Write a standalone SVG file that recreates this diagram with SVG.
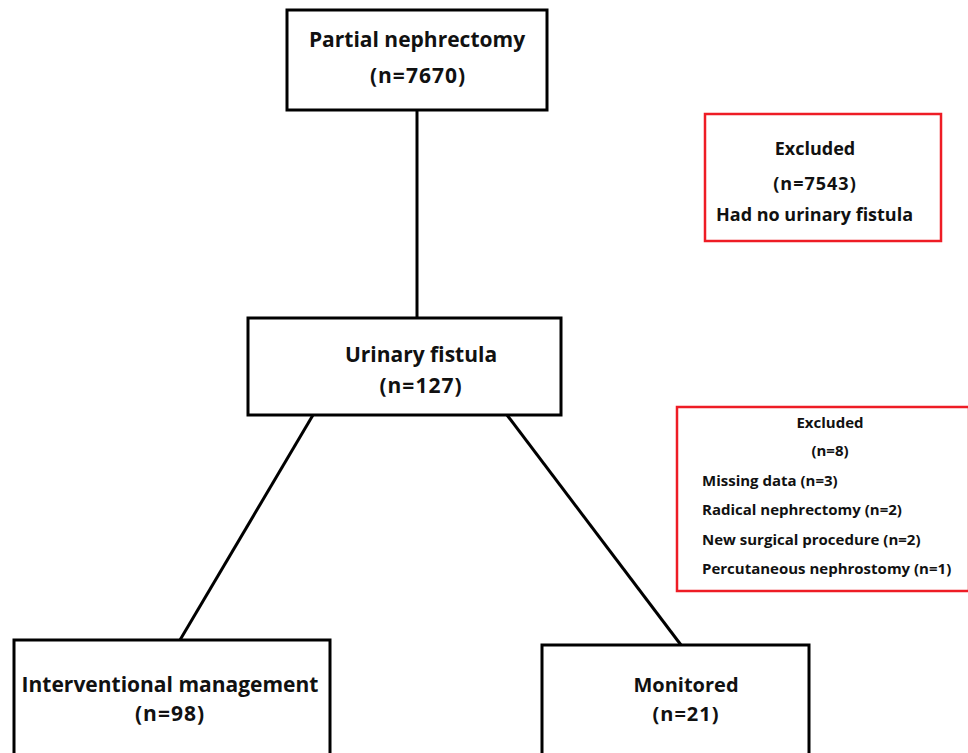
<svg xmlns="http://www.w3.org/2000/svg" width="968" height="753" viewBox="0 0 968 753">
<style>
.box{fill:#fff;stroke:#000;stroke-width:3}
.rbox{fill:#fff;stroke:#ee1c25;stroke-width:2.5}
.t{font-family:"Open Sans","Noto Sans","Liberation Sans",sans-serif;font-weight:bold;fill:#111}
.c{text-anchor:middle}
.n{letter-spacing:1px}
.edge{stroke:#000;stroke-width:3;fill:none}
</style>
<rect width="968" height="753" fill="#fff"/>
<g id="connectors">
<line class="edge" x1="417" y1="110" x2="417" y2="318"/>
<line class="edge" x1="313" y1="415" x2="180" y2="640"/>
<line class="edge" x1="507" y1="415" x2="681" y2="645"/>
</g>
<g id="partial">
<rect class="box" x="287" y="10" width="260" height="100"/>
<text class="t c" x="417" y="47" font-size="21">Partial nephrectomy</text>
<text class="t c n" x="418" y="83" font-size="21">(n=7670)</text>
</g>
<g id="excluded1">
<rect class="rbox" x="705" y="114" width="236" height="127"/>
<text class="t c" x="815" y="155" font-size="18">Excluded</text>
<text class="t c n" x="815" y="190" font-size="18">(n=7543)</text>
<text class="t" x="716" y="221" font-size="18">Had no urinary fistula</text>
</g>
<g id="fistula">
<rect class="box" x="248" y="318" width="313" height="97"/>
<text class="t c" x="421" y="362" font-size="21">Urinary fistula</text>
<text class="t c n" x="421" y="393" font-size="21">(n=127)</text>
</g>
<g id="excluded2">
<rect class="rbox" x="677" y="407" width="292" height="184"/>
<text class="t c" x="830" y="428" font-size="15">Excluded</text>
<text class="t c" x="830" y="456" font-size="15">(n=8)</text>
<text class="t" x="702" y="486" font-size="15">Missing data (n=3)</text>
<text class="t" x="702" y="515" font-size="15">Radical nephrectomy (n=2)</text>
<text class="t" x="702" y="545" font-size="15">New surgical procedure (n=2)</text>
<text class="t" x="702" y="574" font-size="15">Percutaneous nephrostomy (n=1)</text>
</g>
<g id="interventional">
<rect class="box" x="14" y="640" width="316" height="125"/>
<text class="t c" x="170" y="692" font-size="21">Interventional management</text>
<text class="t c n" x="170" y="721" font-size="21">(n=98)</text>
</g>
<g id="monitored">
<rect class="box" x="542" y="645" width="267" height="120"/>
<text class="t c" x="686" y="692" font-size="20">Monitored</text>
<text class="t c n" x="686" y="721" font-size="20">(n=21)</text>
</g>
</svg>
